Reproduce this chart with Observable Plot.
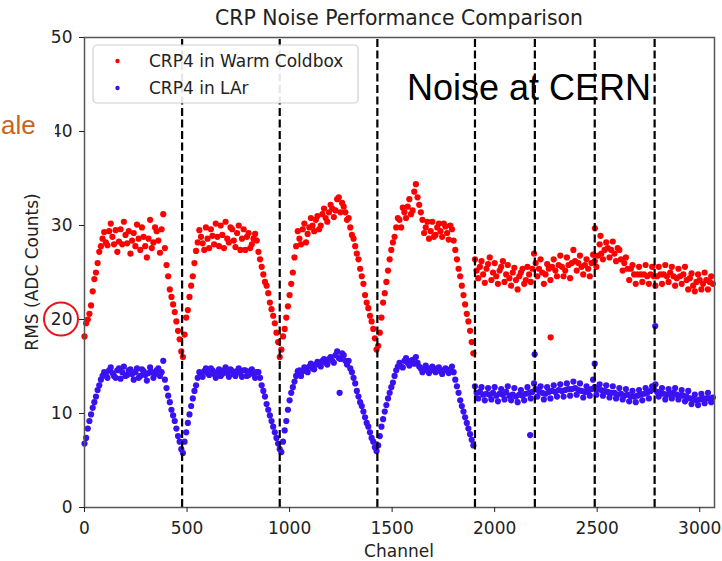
<!DOCTYPE html>
<html>
<head>
<meta charset="utf-8">
<script src="https://cdn.jsdelivr.net/npm/d3@7"></script>
<script src="https://cdn.jsdelivr.net/npm/@observablehq/plot@0.6"></script>
<style>
html, body { margin: 0; padding: 0; background: #fff; }
#chart { position: relative; width: 722px; height: 561px; overflow: hidden; }
</style>
</head>
<body>
<div id="chart"></div>
<script>
// ---- data ----
const channelStep = 16;           // readings every 16 channels ...
const midOffset = 8;              // ... plus a second reading 8 channels later
const seriesNames = ["CRP4 in Warm Coldbox", "CRP4 in LAr"];
const seriesColors = ["#ff0000", "#3a12f2"];

// readings at channel 0, 16, 32, ...
const warmRms = [
  18.2, 20.0, 21.5, 24.3, 26.0, 27.8, 29.3, 27.9, 30.2, 28.0,
  27.2, 29.6, 30.4, 28.1, 27.0, 29.2, 30.1, 27.4, 28.8, 26.6,
  30.6, 28.2, 29.4, 27.1, 31.2, 25.8, 23.2, 21.6, 19.8, 17.9, 16.0,
  20.2, 22.4, 24.6, 27.3, 29.5, 28.1, 29.8, 27.6, 28.9, 30.2,
  27.8, 29.0, 30.4, 28.2, 29.6, 27.7, 30.0, 28.6, 27.4, 29.2,
  28.0, 29.1, 27.2, 25.6, 24.0, 22.8, 21.1, 19.6, 17.6, 16.8,
  19.0, 21.4, 23.8, 26.6, 29.4, 28.0, 30.2, 29.1, 30.8, 29.4,
  31.0, 30.0, 31.8, 30.4, 32.2, 30.9, 32.8, 31.4, 32.0, 30.6,
  29.8, 28.6, 27.0, 25.4, 23.8, 21.8, 20.4, 19.0, 16.8,
  18.6, 21.8, 24.0, 26.4, 28.2, 29.8, 30.6, 31.9, 30.8, 32.8,
  31.6, 34.4, 32.2, 30.6, 29.8, 28.6, 30.4, 29.0, 30.2, 28.8,
  29.9, 28.5, 29.6, 27.4, 25.4, 23.6, 21.6, 19.8, 17.6,
  26.4, 24.4, 26.2, 23.9, 25.9, 24.2, 26.0, 23.8, 25.6, 24.0,
  25.8, 23.6, 25.5, 23.2, 25.0, 23.8, 25.6, 24.0, 27.0,
  24.6, 26.4, 23.8, 25.9, 24.2, 26.4, 24.6, 26.8, 24.6, 26.6, 24.4,
  27.4, 25.2, 26.8, 24.8, 26.4, 24.6, 26.9, 25.6, 28.0, 26.4,
  28.2, 26.6, 28.3, 26.2, 27.4, 25.2, 26.6, 24.2, 25.8, 23.8,
  25.6, 24.0, 25.8, 23.8, 25.6, 23.6, 25.6, 23.8, 25.8, 24.0,
  25.6, 23.6, 25.4, 23.8, 25.6, 23.2, 24.9, 23.0, 24.8, 23.2,
  25.0, 23.2, 24.6
];
// readings at channel 8, 24, 40, ...
const warmRmsMid = [
  19.6, 20.6, 23.0, 25.0, 27.2, 28.6, 28.2, 29.4, 28.8, 29.5,
  28.3, 28.0, 29.0, 29.4, 28.4, 27.8, 28.6, 29.8, 27.8, 28.6,
  27.6, 29.8, 28.4, 29.6, 27.6, 24.6, 22.4, 20.8, 18.8, 16.6, 18.4,
  21.0, 23.6, 26.0, 28.2, 28.8, 27.4, 28.6, 29.6, 28.0, 28.8,
  30.0, 27.6, 28.6, 29.8, 28.4, 29.2, 27.4, 29.6, 28.8, 27.6,
  28.6, 28.4, 26.4, 24.8, 23.6, 21.8, 20.4, 18.6, 16.0, 18.2,
  20.2, 22.6, 25.0, 27.8, 28.6, 29.6, 28.2, 29.8, 30.0, 30.6,
  29.6, 31.2, 30.8, 31.4, 31.8, 31.6, 33.0, 32.4, 31.4, 30.8,
  29.0, 27.8, 26.4, 24.6, 22.6, 21.2, 19.8, 18.0, 17.2,
  20.2, 22.8, 25.2, 27.4, 28.8, 30.8, 29.8, 31.4, 32.0, 31.2,
  33.6, 33.0, 31.4, 29.2, 30.4, 29.4, 28.8, 29.8, 29.4, 30.2,
  29.2, 30.0, 28.4, 26.4, 24.6, 22.6, 20.6, 18.8, 16.4,
  25.2, 25.6, 24.8, 25.4, 26.6, 25.0, 24.6, 25.2, 26.2, 24.8,
  24.4, 25.0, 24.2, 24.6, 25.4, 24.2, 24.8, 25.4, 26.0,
  25.4, 25.0, 24.8, 25.4, 25.6, 25.2, 25.8, 25.6, 25.2, 25.8, 26.0,
  26.2, 26.0, 25.6, 25.8, 25.4, 26.0, 26.2, 26.8, 27.0, 27.4,
  27.6, 27.4, 27.0, 27.6, 26.4, 26.0, 25.4, 25.4, 24.8, 24.8,
  24.8, 24.8, 24.6, 24.8, 24.6, 24.6, 24.8, 24.8, 24.6, 25.0,
  24.6, 24.4, 24.6, 24.8, 24.2, 24.4, 23.6, 24.0, 24.2, 23.8,
  24.2, 24.0, 23.8
];

const larRms = [
  6.8, 8.4, 9.9, 11.2, 12.5, 13.6, 14.4, 13.8, 14.9, 14.0,
  14.6, 13.7, 15.0, 14.1, 14.7, 13.6, 14.8, 14.0, 14.5, 13.5,
  14.9, 13.8, 14.6, 14.0, 15.6, 12.7, 11.2, 9.8, 8.4, 7.0, 5.8,
  8.0, 9.9, 11.6, 13.0, 14.4, 13.9, 14.8, 14.1, 14.6, 13.8,
  14.7, 14.2, 14.9, 13.9, 14.5, 14.0, 14.8, 13.9, 14.6, 14.1,
  14.7, 13.8, 14.4, 13.0, 11.8, 10.4, 9.2, 8.0, 6.8, 5.9,
  8.2, 10.4, 12.2, 13.4, 14.5, 14.0, 14.9, 14.4, 15.3, 14.7,
  15.5, 15.0, 15.8, 15.2, 16.0, 15.4, 16.6, 15.8, 16.2, 15.2,
  14.8, 13.8, 12.4, 11.2, 10.2, 9.0, 8.0, 7.0, 6.0,
  7.6, 9.4, 10.9, 12.2, 13.3, 14.6, 15.4, 14.9, 15.9, 15.1,
  15.7, 16.0, 15.0, 14.4, 15.1, 14.3, 15.0, 14.4, 14.9, 14.2,
  14.8, 14.3, 15.0, 13.6, 12.2, 10.8, 9.6, 8.4, 7.2,
  12.9, 11.6, 12.8, 11.4, 12.7, 11.5, 12.8, 11.3, 12.6, 11.5,
  12.9, 11.4, 12.7, 11.2, 12.5, 11.4, 12.8, 11.6, 13.2,
  11.8, 12.9, 11.5, 12.8, 11.6, 13.0, 11.8, 13.1, 11.8, 13.2, 11.9,
  13.4, 12.0, 13.2, 11.7, 12.9, 11.9, 13.6, 12.0, 13.1, 11.9,
  13.0, 11.7, 12.9, 11.6, 12.7, 11.5, 12.6, 11.3, 12.4, 11.2,
  12.5, 11.4, 12.7, 11.6, 12.9, 13.1, 11.8, 12.7, 11.5, 12.6,
  11.6, 12.7, 11.5, 12.5, 11.3, 12.4, 11.0, 12.0, 10.9, 12.1,
  11.1, 12.2, 11.2
];
const larRmsMid = [
  7.4, 9.2, 10.6, 11.8, 13.0, 14.0, 14.2, 14.6, 14.3, 13.8,
  14.8, 14.4, 14.0, 14.6, 14.2, 14.4, 13.8, 14.7, 14.1, 14.3,
  14.4, 14.2, 14.8, 14.4, 13.6, 11.9, 10.4, 9.2, 7.6, 6.2, 7.0,
  9.0, 10.8, 12.4, 13.8, 14.2, 14.5, 14.3, 14.8, 14.2, 14.4,
  14.0, 14.6, 14.3, 14.7, 14.2, 14.5, 14.3, 14.6, 14.0, 14.5,
  14.2, 14.4, 13.8, 12.4, 11.0, 9.8, 8.6, 7.4, 6.2, 7.0,
  9.2, 11.4, 12.8, 14.0, 14.6, 14.5, 14.6, 15.0, 14.8, 15.2,
  15.2, 15.6, 15.4, 15.8, 15.6, 16.2, 15.9, 16.4, 15.6, 15.6,
  14.4, 13.2, 11.8, 10.8, 9.6, 8.6, 7.4, 6.4, 6.6,
  8.6, 10.2, 11.6, 12.8, 14.0, 15.0, 15.0, 15.6, 15.4, 15.6,
  15.3, 15.4, 14.8, 14.8, 14.6, 14.8, 14.6, 14.8, 14.5, 14.6,
  14.6, 14.7, 14.4, 12.9, 11.4, 10.2, 9.0, 7.8, 6.6,
  12.2, 12.3, 12.0, 12.1, 12.0, 12.2, 11.9, 12.1, 12.0, 12.3,
  11.9, 12.0, 11.8, 12.0, 11.9, 12.1, 12.2, 12.3, 12.6,
  12.4, 12.2, 12.1, 12.3, 12.4, 12.3, 12.5, 12.4, 12.5, 12.6, 12.6,
  12.7, 12.5, 12.4, 12.3, 12.4, 12.6, 12.8, 12.6, 12.5, 12.4,
  12.3, 12.2, 12.2, 12.0, 12.1, 11.9, 12.0, 11.8, 11.8, 11.9,
  12.0, 12.1, 12.2, 12.4, 12.6, 12.3, 12.2, 12.1, 12.0, 12.1,
  12.2, 12.0, 11.9, 11.9, 11.8, 11.6, 11.5, 11.4, 11.5, 11.6,
  11.6, 11.6, 11.7
];

const warmOutlierCh  = [2273, 2489, 2516];
const warmOutlierRms = [18.1, 29.7, 28.9];
const larOutlierCh   = [1244, 2173, 2195, 2488, 2783];
const larOutlierRms  = [12.2, 7.7, 16.3, 15.3, 19.3];

const boundaryCh = [476, 952, 1428, 1904, 2196, 2488, 2780];
const xTicks = [0, 500, 1000, 1500, 2000, 2500, 3000];
const yTicks = [0, 10, 20, 30, 40, 50];

const titleText = "CRP Noise Performance Comparison";
const xLabel = "Channel";
const yLabel = "RMS (ADC Counts)";
const noteText = "Noise at CERN";
const sideText = "ale";

// ---- build tables ----
function table(main, mid, outCh, outV) {
  return main.map((v, i) => ({ch: i * channelStep, rms: v}))
    .concat(mid.map((v, i) => ({ch: i * channelStep + midOffset, rms: v})))
    .concat(outCh.map((c, i) => ({ch: c, rms: outV[i]})));
}
const warmData = table(warmRms, warmRmsMid, warmOutlierCh, warmOutlierRms);
const larData = table(larRms, larRmsMid, larOutlierCh, larOutlierRms);

const W = 722, H = 561;
const mL = 84, mR = 8, mT = 37, mB = 54;

const plot = Plot.plot({
  width: W, height: H,
  marginLeft: mL, marginRight: mR, marginTop: mT, marginBottom: mB,
  style: {fontFamily: "'DejaVu Sans', sans-serif", fontSize: "17px", color: "#222", background: "white", overflow: "visible"},
  x: {domain: [0, 3072]},
  y: {domain: [0, 50]},
  marks: [
    Plot.dot(warmData, {x: "ch", y: "rms", r: 3.1, fill: seriesColors[0]}),
    Plot.dot(larData, {x: "ch", y: "rms", r: 3.1, fill: seriesColors[1]}),
    Plot.ruleX(boundaryCh, {x: d => d, y1: 0, y2: 50, stroke: "#000", strokeWidth: 2.2, strokeDasharray: "8,3.5"}),
    Plot.frame({stroke: "#555", strokeWidth: 1.5}),
    Plot.axisX({ticks: xTicks, tickSize: 5, tickPadding: 9, label: null, tickFormat: d3.format("d")}),
    Plot.axisY({ticks: yTicks, tickSize: 5, tickPadding: 7, label: null})
  ]
});

document.getElementById("chart").appendChild(plot);
const svg = d3.select(plot);
const sy = plot.scale("y");
const cx = (mL + W - mR) / 2;

// title
svg.append("text").attr("x", cx).attr("y", 25).attr("text-anchor", "middle")
  .attr("font-size", 20.4).attr("fill", "#222").text(titleText);
// x label
svg.append("text").attr("x", cx).attr("y", 557).attr("text-anchor", "middle")
  .attr("font-size", 17).attr("fill", "#222").text(xLabel);
// y label
svg.append("text").attr("transform", `translate(38, ${(mT + H - mB) / 2}) rotate(-90)`)
  .attr("text-anchor", "middle").attr("font-size", 17).attr("fill", "#222").text(yLabel);

// legend
const lg = svg.append("g");
lg.append("rect").attr("x", 93).attr("y", 45).attr("width", 265).attr("height", 58)
  .attr("rx", 4).attr("fill", "white").attr("fill-opacity", 0.9)
  .attr("stroke", "#cfcfcf").attr("stroke-width", 1.2);
seriesNames.forEach((name, i) => {
  const yc = 61 + i * 27;
  lg.append("circle").attr("cx", 117.5).attr("cy", yc).attr("r", 2.2).attr("fill", seriesColors[i]);
  lg.append("text").attr("x", 149).attr("y", yc + 6.2).attr("text-anchor", "start")
    .attr("font-size", 17).attr("fill", "#222").text(name);
});

// slide annotations
svg.append("text").attr("x", 407).attr("y", 100).attr("text-anchor", "start")
  .attr("font-family", "'Liberation Sans', Arial, sans-serif").attr("font-size", 36)
  .attr("fill", "#000").text(noteText);
svg.append("rect").attr("x", 0).attr("y", 104).attr("width", 55).attr("height", 44).attr("fill", "white");
svg.append("text").attr("x", 1).attr("y", 134).attr("text-anchor", "start")
  .attr("font-family", "'Liberation Sans', Arial, sans-serif").attr("font-size", 26)
  .attr("fill", "#c8641e").text(sideText);
svg.append("ellipse").attr("cx", 61).attr("cy", sy.apply(20)).attr("rx", 17).attr("ry", 16.5)
  .attr("fill", "none").attr("stroke", "#e8141a").attr("stroke-width", 2);
</script>
</body>
</html>
